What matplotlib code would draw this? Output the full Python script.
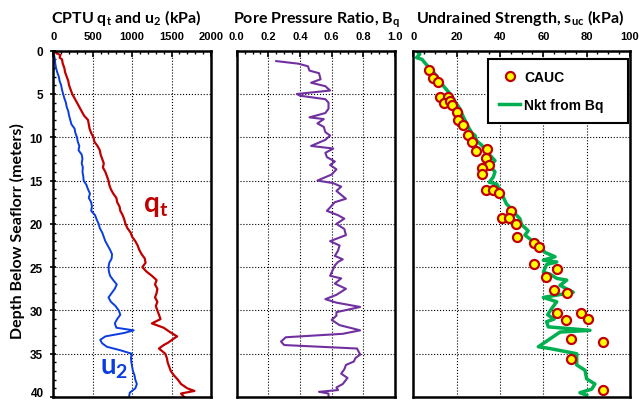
import matplotlib
matplotlib.use('Agg')
import matplotlib.pyplot as plt
from matplotlib.ticker import MultipleLocator, FuncFormatter
from matplotlib.lines import Line2D

# CPTU cone resistance q_t (kPa) vs depth (m)
qt_depth = [0.0, 0.3, 0.5, 0.8, 1.0, 1.5, 2.0, 2.5, 3.0, 3.5, 4.0, 4.5, 5.0, 5.5, 6.0,
            6.5, 7.0, 7.5, 8.0, 8.5, 9.0, 9.5, 10.0, 10.5, 11.0, 11.5, 12.0, 12.5, 13.0,
            13.5, 14.0, 14.5, 15.0, 15.5, 16.0, 16.5, 17.0, 17.5, 18.0, 18.5, 19.0, 19.5,
            20.0, 20.5, 21.0, 21.5, 22.0, 22.5, 23.0, 23.5, 24.0, 24.5, 25.0, 25.5, 26.0,
            26.5, 27.0, 27.5, 28.0, 28.5, 29.0, 29.5, 30.0, 30.5, 31.0, 31.5, 32.0, 32.5,
            33.0, 33.3, 33.7, 34.0, 34.4, 35.0, 35.5, 36.0, 36.5, 37.0, 37.5, 38.0, 38.5,
            39.0, 39.3, 39.6, 40.0]
qt_kpa = [20, 40, 90, 80, 110, 120, 140, 150, 170, 190, 200, 220, 240, 270, 300,
          330, 360, 390, 440, 450, 460, 480, 510, 520, 560, 590, 600, 620, 640,
          630, 660, 680, 700, 710, 730, 760, 800, 810, 840, 850, 880, 900,
          915, 940, 980, 1000, 1040, 1070, 1090, 1120, 1160, 1170, 1130, 1180, 1250,
          1310, 1290, 1320, 1310, 1290, 1320, 1300, 1320, 1340, 1360, 1250, 1400, 1480,
          1570, 1520, 1460, 1400, 1340, 1420, 1440, 1450, 1470, 1490, 1530, 1580, 1620,
          1700, 1790, 1620, 1660]

# pore pressure u_2 (kPa) vs depth (m)
u2_depth = [0.0, 0.5, 1.0, 1.5, 2.0, 2.5, 3.0, 3.5, 4.0, 4.5, 5.0, 5.5, 6.0, 6.5, 7.0,
            7.5, 8.0, 8.5, 9.0, 9.5, 10.0, 10.5, 11.0, 11.5, 12.0, 12.5, 13.0, 13.5, 14.0,
            14.5, 15.0, 15.5, 16.0, 16.5, 17.0, 17.5, 18.0, 18.5, 19.0, 19.5, 20.0, 20.5,
            21.0, 21.5, 22.0, 22.5, 23.0, 23.5, 24.0, 24.5, 25.0, 25.5, 26.0, 26.5, 27.0,
            27.5, 28.0, 28.5, 29.0, 29.5, 30.0, 30.5, 31.0, 31.5, 32.0, 32.3, 32.6, 33.0,
            33.4, 33.8, 34.2, 34.6, 35.0, 35.5, 36.0, 36.5, 37.0, 37.5, 38.0, 38.5, 39.0,
            39.5, 40.0]
u2_kpa = [0, 10, 20, 25, 35, 50, 70, 80, 100, 110, 125, 140, 160, 170, 190,
          200, 215, 230, 270, 280, 300, 310, 330, 320, 360, 370, 360, 375, 370,
          380, 385, 420, 440, 465, 450, 480, 490, 480, 530, 550, 575, 590,
          620, 640, 660, 690, 720, 745, 740, 710, 700, 705, 720, 760, 805,
          780, 740, 700, 730, 790, 830, 850, 810, 780, 800, 1020, 900, 660,
          595, 620, 680, 850, 995, 985, 990, 1000, 1010, 1030, 1040, 1060, 1040,
          970, 960]

# pore pressure ratio Bq vs depth (m)
bq_depth = [1.2, 1.5, 1.8, 2.3, 2.6, 3.3, 3.7, 4.1, 4.6, 5.0, 5.2, 5.6, 6.0, 6.7, 7.2,
            7.7, 7.9, 8.4, 8.8, 9.4, 9.8, 10.3, 11.0, 11.3, 11.8, 12.3, 12.8, 13.2, 13.7,
            14.3, 15.0, 15.3, 15.7, 16.2, 17.1, 17.5, 18.5, 19.0, 19.4, 20.0, 20.6, 21.3,
            22.0, 22.5, 23.1, 23.7, 24.1, 24.4, 24.8, 25.2, 26.0, 26.3, 26.9, 27.5, 28.2,
            28.7, 29.1, 29.6, 30.2, 30.6, 31.1, 31.7, 32.3, 32.7, 33.1, 33.6, 34.0, 34.4,
            35.1, 35.5, 35.9, 36.3, 36.8, 37.3, 37.8, 38.5, 38.9, 39.2, 39.4, 39.6, 39.9]
bq_val = [0.25, 0.39, 0.45, 0.46, 0.52, 0.53, 0.47, 0.56, 0.59, 0.38, 0.40, 0.56, 0.58, 0.58, 0.56,
          0.46, 0.55, 0.51, 0.55, 0.56, 0.59, 0.56, 0.47, 0.61, 0.56, 0.57, 0.62, 0.59, 0.63,
          0.60, 0.51, 0.61, 0.66, 0.63, 0.69, 0.62, 0.57, 0.64, 0.68, 0.63, 0.68, 0.69,
          0.59, 0.65, 0.64, 0.62, 0.67, 0.64, 0.62, 0.61, 0.59, 0.66, 0.62, 0.69, 0.63,
          0.56, 0.63, 0.78, 0.63, 0.63, 0.60, 0.65, 0.78, 0.67, 0.31, 0.28, 0.30, 0.76,
          0.78, 0.75, 0.74, 0.69, 0.68, 0.66, 0.70, 0.67, 0.63, 0.64, 0.52, 0.58, 0.58]

# CAUC lab tests: undrained strength (kPa) and depth (m)
cauc_su = [7.4, 8.9, 11.2, 12.3, 15.8, 14.3, 16.9, 18.0, 20.0, 20.5, 22.8, 25.4, 26.9,
           28.9, 33.8, 33.5, 35.1, 31.5, 31.5, 33.5, 36.9, 39.5, 45.1, 40.8, 44.3, 47.2,
           47.7, 55.8, 58.0, 55.7, 66.5, 61.1, 65.1, 70.8, 66.5, 70.3, 77.2, 80.5, 72.6,
           87.7, 72.6, 87.4]
cauc_depth = [2.2, 3.1, 3.6, 5.4, 5.4, 6.0, 5.8, 6.3, 7.1, 8.0, 8.6, 9.7, 10.5,
              11.6, 11.3, 12.4, 13.2, 13.6, 14.2, 16.1, 16.1, 16.4, 18.5, 19.3, 19.3, 20.0,
              21.5, 22.2, 22.7, 24.6, 25.2, 26.1, 27.6, 28.0, 30.3, 31.1, 30.3, 31.0, 33.3,
              33.6, 35.6, 39.2]

# su from Nkt correlated with Bq
nkt_su = [1.5, 3.0, 1.5, 4.0, 6.0, 9.0, 11.0, 13.0, 15.0, 17.0, 19.0, 21.5, 23.0, 25.4,
          27.0, 28.5, 29.2, 31.5, 34.0, 37.7, 35.4, 37.7, 36.9, 35.1, 38.5, 40.0, 41.5,
          43.0, 45.4, 46.9, 49.2, 50.0, 53.0, 51.5, 54.6, 58.0, 60.8, 65.4, 60.0, 66.2,
          61.5, 60.0, 63.0, 66.2, 70.8, 67.7, 73.8, 60.0, 66.2, 63.8, 62.0, 65.0, 61.5,
          62.3, 81.5, 67.7, 57.7, 63.0, 75.4, 75.4, 79.2, 80.0, 83.8, 82.3, 76.9, 80.0]
nkt_depth = [0.0, 0.4, 0.8, 1.0, 1.6, 2.4, 3.0, 3.8, 4.4, 5.0, 5.8, 6.7, 7.6, 8.8,
             9.5, 9.8, 10.4, 10.9, 11.7, 12.7, 13.3, 14.0, 14.6, 15.2, 15.4, 16.1, 16.9,
             17.7, 18.3, 18.8, 19.4, 20.1, 20.8, 21.3, 21.9, 22.5, 23.3, 23.8, 24.2, 24.4,
             24.7, 25.6, 25.8, 26.3, 26.5, 27.1, 27.9, 28.5, 29.0, 29.8, 30.5, 31.0, 31.3,
             31.9, 32.3, 32.5, 34.2, 34.4, 35.0, 36.3, 36.9, 37.9, 38.5, 39.1, 39.5, 39.8]

plt.rcParams['font.family'] = ['Liberation Sans', 'DejaVu Sans']
plt.rcParams['font.weight'] = 'bold'

W, H = 639, 402
fig = plt.figure(figsize=(W / 100, H / 100), dpi=100)


def add_panel(x0, x1, y0=51.7, y1=398):
    return fig.add_axes([x0 / W, 1 - y1 / H, (x1 - x0) / W, (y1 - y0) / H])


def style_panel(ax, xmax, xmajor, xminor, show_y=False):
    ax.set_xlim(0, xmax)
    ax.set_ylim(40, 0)
    ax.xaxis.tick_top()
    ax.xaxis.set_major_locator(MultipleLocator(xmajor))
    ax.xaxis.set_minor_locator(MultipleLocator(xminor))
    ax.yaxis.set_major_locator(MultipleLocator(5))
    ax.tick_params(axis='x', which='major', direction='in', length=4, width=1.2,
                   pad=7, labelsize=8)
    ax.tick_params(axis='x', which='minor', direction='in', length=2.5, width=1.0)
    if show_y:
        ax.yaxis.set_minor_locator(MultipleLocator(1))
        ax.tick_params(axis='y', which='major', direction='inout', length=5, width=1.2,
                       pad=5, labelsize=8.5)
        ax.tick_params(axis='y', which='minor', direction='in', length=2.5, width=1.0)
    else:
        ax.tick_params(axis='y', which='both', length=0, labelleft=False)
    ax.grid(True, which='major', color='black', linestyle=':', linewidth=0.8)
    for s in ax.spines.values():
        s.set_linewidth(1.8)


ax1 = add_panel(53.3, 211)
ax2 = add_panel(236.7, 395)
ax3 = add_panel(413.3, 630)

style_panel(ax1, 2000, 500, 100, show_y=True)
style_panel(ax2, 1.0, 0.2, 0.05)
style_panel(ax3, 100, 20, 5)

# the "40" label sits on the figure edge; draw it a few pixels higher so it is not clipped
ax1.yaxis.set_major_formatter(FuncFormatter(lambda v, p: '' if v >= 40 else f'{v:g}'))
ax1.annotate('40', xy=(0, 40), xycoords=('axes fraction', 'data'), xytext=(-6.5, 3),
             textcoords='offset points', ha='right', va='center', fontsize=8.5,
             annotation_clip=False)

# panel 1: qt and u2
ax1.plot(qt_kpa, qt_depth, color='#c00000', lw=1.6)
ax1.plot(u2_kpa, u2_depth, color='#0a3de0', lw=1.4)
ax1.text(1140, 18.5, 'q$_\\mathregular{t}$', color='#c00000', fontsize=20,
         family='Lato', weight='bold', va='baseline')
ax1.text(595, 37.3, 'u$_\\mathregular{2}$', color='#0a3de0', fontsize=20,
         family='Lato', weight='bold', va='baseline')

# panel 2: Bq
ax2.plot(bq_val, bq_depth, color='#7030a0', lw=1.5)

# panel 3: undrained strength
ax3.plot(nkt_su, nkt_depth, color='#00b050', lw=2.5, zorder=2)
ax3.plot(cauc_su, cauc_depth, 'o', ls='none', ms=6.5, mfc='#ffff00', mec='#c00000',
         mew=1.6, zorder=3)

handles = [
    Line2D([], [], marker='o', ls='none', ms=6.5, mfc='#ffff00', mec='#c00000', mew=1.6),
    Line2D([], [], color='#00b050', lw=2.5),
]
leg = ax3.legend(handles, ['CAUC', 'Nkt from Bq'], loc='upper left',
                 bbox_to_anchor=(0.345, 0.79, 0.646, 0.186), mode='expand',
                 prop={'weight': 'bold', 'size': 10},
                 fancybox=False, framealpha=1, edgecolor='black',
                 handlelength=1.5, handletextpad=0.3, labelspacing=1.0,
                 borderpad=0.8, borderaxespad=0)
leg.get_frame().set_linewidth(1.5)

# panel titles
title_kw = dict(family='Lato', weight='bold', fontsize=11.5, ha='center', va='baseline')
fig.text(126 / W, 1 - 23 / H, 'CPTU q$_\\mathregular{t}$ and u$_\\mathregular{2}$ (kPa)', **title_kw)
fig.text(316 / W, 1 - 23 / H, 'Pore Pressure Ratio, B$_\\mathregular{q}$', **title_kw)
fig.text(520 / W, 1 - 23 / H, 'Undrained Strength, s$_\\mathregular{uc}$ (kPa)', **title_kw)

fig.text(17 / W, 1 - 231 / H, 'Depth Below Seaflorr (meters)', family='Lato', weight='bold',
         fontsize=11.5, rotation=90, ha='center', va='center')

fig.savefig('out.png', dpi=100)
